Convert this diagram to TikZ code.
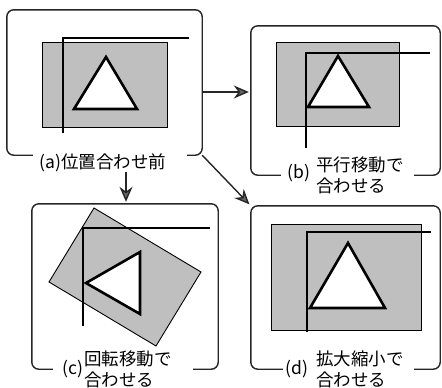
\documentclass[tikz,border=0pt]{standalone}
\usepackage{fontspec}
\setmainfont{Noto Sans CJK JP}
\usetikzlibrary{arrows.meta,calc}
\tikzset{
  framebox/.style={draw=none,inner sep=0pt},
  frameline/.style={line width=1.4pt,draw=black!85,rounded corners=7pt},
  paper/.style={fill=black!25,draw=black,line width=0.9pt},
  tri/.style={fill=white,draw=black,line width=2.6pt,line join=miter},
  lframe/.style={draw=black,line width=2.6pt},
  conn/.style={line width=1.4pt,draw=black!85,-{Stealth[length=15pt,width=13pt,fill=black!60]},shorten >=2pt},
  lab/.style={font=\fontsize{17.5}{21}\selectfont,inner sep=0pt},
  lab2/.style={font=\fontsize{17.5}{21}\selectfont,inner sep=0pt,align=left,anchor=west},
}
\begin{document}
\begin{tikzpicture}[x=1pt,y=-1pt]
\useasboundingbox (0,0) rectangle (442,388);
% frame nodes
\node[framebox,minimum width=195pt,minimum height=145pt] (A) at (104.5,82.5) {};
\node[framebox,minimum width=189pt,minimum height=149pt] (B) at (345.5,100.5) {};
\node[framebox,minimum width=186pt,minimum height=165pt] (C) at (125,286.5) {};
\node[framebox,minimum width=189pt,minimum height=163pt] (D) at (345.5,287.5) {};
% frames with label gaps
\draw[frameline] ($(A.south west)+(26,0)$) -- (A.south west) -- (A.north west) -- (A.north east) -- (A.south east) -- ($(A.south east)+(-15,0)$);
\draw[frameline] ($(B.south west)+(30,0)$) -- (B.south west) -- (B.north west) -- (B.north east) -- (B.south east) -- ($(B.south east)+(-26,0)$);
\draw[frameline] ($(C.south west)+(21,0)$) -- (C.south west) -- (C.north west) -- (C.north east) -- (C.south east) -- ($(C.south east)+(-25,0)$);
\draw[frameline] ($(D.south west)+(32,0)$) -- (D.south west) -- (D.north west) -- (D.north east) -- (D.south east) -- ($(D.south east)+(-26,0)$);
% (a)
\draw[paper] (42,42) rectangle (167,127);
\draw[tri] (106,57) -- (74,109) -- (137,109) -- cycle;
\draw[lframe] (63,133) -- (63,38) -- (189,38);
\node[lab] (la) at (103,163) {(a)位置合わせ前};
% (b)
\draw[paper] (276,42) rectangle (399,126);
\draw[tri] (338,56) -- (308,107) -- (369,107) -- cycle;
\draw[lframe] (306,148) -- (306,53) -- (430,53);
\node[lab] (lb1) at (299,173) {(b)};
\node[lab2] (lb2) at (316,175) {平行移動で\\合わせる};
% (c)
\draw[paper] (94,208) -- (201,272) -- (156,346) -- (49,282) -- cycle;
\draw[tri] (86,283) -- (140,252) -- (140,314) -- cycle;
\draw[lframe] (83,326) -- (83,228) -- (210,228);
\node[lab] (lc1) at (73,369) {(c)};
\node[lab2] (lc2) at (84,369) {回転移動で\\合わせる};
% (d)
\draw[paper] (271,224) rectangle (421,330);
\draw[tri] (348,243) -- (310,308) -- (385,308) -- cycle;
\draw[lframe] (307,332) -- (307,232) -- (431,232);
\node[lab] (ld1) at (297,369) {(d)};
\node[lab2] (ld2) at (316,369) {拡大縮小で\\合わせる};
% connectors
\coordinate (ra) at (202,92);
\coordinate (da) at (126,172);
\draw[conn] (ra) -- (ra -| B.west);
\draw[conn] (da) -- (da |- C.north);
\draw[conn] (A.south east) -- (D.north west);
\end{tikzpicture}
\end{document}
